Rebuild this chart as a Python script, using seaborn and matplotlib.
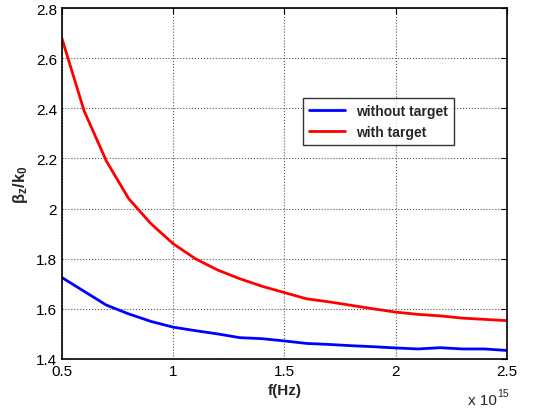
import numpy as np
import pandas as pd
import seaborn as sns
import matplotlib.pyplot as plt

# frequency in units of 1e15 Hz
freq = [0.5, 0.6, 0.7, 0.8, 0.9, 1.0, 1.1, 1.2, 1.3, 1.4, 1.5,
        1.6, 1.7, 1.8, 1.9, 2.0, 2.1, 2.2, 2.3, 2.4, 2.5]
without_target = [1.725, 1.67, 1.615, 1.58, 1.55, 1.527, 1.513, 1.50, 1.485, 1.481, 1.472,
                  1.462, 1.458, 1.453, 1.449, 1.444, 1.440, 1.445, 1.440, 1.440, 1.434]
with_target = [2.68, 2.39, 2.19, 2.04, 1.94, 1.86, 1.80, 1.755, 1.72, 1.69, 1.665,
               1.64, 1.628, 1.614, 1.60, 1.587, 1.578, 1.572, 1.563, 1.558, 1.553]
series_names = ['without target', 'with target']
series_colors = ['#0000ff', '#ff0000']

df = pd.DataFrame({
    'f': freq * 2,
    'beta': without_target + with_target,
    'case': [series_names[0]] * len(freq) + [series_names[1]] * len(freq),
})

sns.set_style('white')
plt.rcParams['font.family'] = ['Liberation Sans', 'DejaVu Sans']
# bold math for the y label
plt.rcParams['mathtext.fontset'] = 'custom'
plt.rcParams['mathtext.rm'] = 'Liberation Sans:bold'
plt.rcParams['mathtext.it'] = 'Liberation Sans:bold'
plt.rcParams['mathtext.bf'] = 'Liberation Sans:bold'

fig, ax = plt.subplots(figsize=(5.33, 4.10), dpi=100)
fig.subplots_adjust(left=0.116, right=0.951, top=0.978, bottom=0.122)

sns.lineplot(data=df, x='f', y='beta', hue='case', palette=series_colors,
             linewidth=2, ax=ax)

ax.set_xlim(0.5, 2.5)
ax.set_ylim(1.4, 2.8)
ax.set_xticks([0.5, 1, 1.5, 2, 2.5])
ax.set_xticklabels(['0.5', '1', '1.5', '2', '2.5'])
ax.set_yticks(np.arange(1.4, 2.81, 0.2))
ax.set_yticklabels(['1.4', '1.6', '1.8', '2', '2.2', '2.4', '2.6', '2.8'])
ax.tick_params(direction='in', top=True, right=True, length=4, width=0.8,
               labelsize=11, colors='black')
ax.grid(True, color='#555555', linestyle=':', linewidth=0.8)
for s in ax.spines.values():
    s.set_color('black')
    s.set_linewidth(1.2)

ax.set_xlabel('f(Hz)', fontsize=11, fontweight='bold')
ax.set_ylabel(r'$\beta_z/k_0$', fontsize=12)

# exponent note at the bottom right
fig.text(0.932, 0.005, 'x 10', ha='right', va='bottom', fontsize=11)
fig.text(0.933, 0.028, '15', ha='left', va='bottom', fontsize=7.5)

leg = ax.legend(loc='upper left', bbox_to_anchor=(0.527, 0.762), frameon=True,
                fancybox=False, edgecolor='black', handlelength=2.6,
                prop={'weight': 'bold', 'size': 10}, borderpad=0.4,
                labelspacing=0.5)
leg.get_frame().set_linewidth(1.0)

fig.savefig('out.png', dpi=100)
